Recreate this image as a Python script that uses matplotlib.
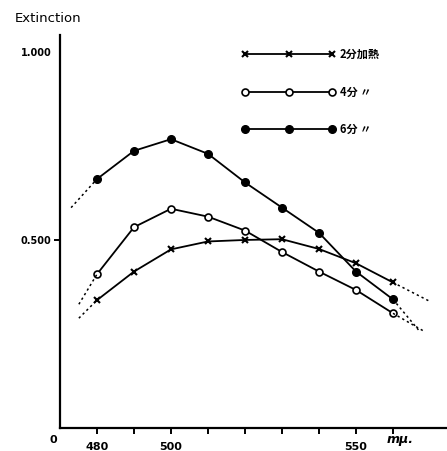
import matplotlib
matplotlib.use('Agg')
import matplotlib.pyplot as plt
from matplotlib.font_manager import FontProperties

# wavelength (m\u03bc) and extinction
wavelength = [480, 490, 500, 510, 520, 530, 540, 550, 560]
ext_2min = [0.340, 0.416, 0.475, 0.496, 0.500, 0.502, 0.476, 0.438, 0.387]
ext_4min = [0.409, 0.534, 0.583, 0.562, 0.525, 0.468, 0.416, 0.367, 0.305]
ext_6min = [0.662, 0.737, 0.768, 0.729, 0.653, 0.586, 0.519, 0.416, 0.342]

# dotted extrapolation ends (left, right)
ends_wl_2min = [475.1, 569.7]
ends_2min = [0.292, 0.338]
ends_wl_4min = [475.1, 568.6]
ends_4min = [0.329, 0.256]
ends_wl_6min = [473.0, 567.3]
ends_6min = [0.586, 0.256]

labels = ['2分加熱', '4分 〃', '6分 〃']
xticks = [480, 490, 500, 510, 520, 530, 540, 550, 560]
xticklabels = ['480', '', '500', '', '', '', '', '550', '']

fig = plt.figure(figsize=(4.47, 4.51), dpi=100)
ax = fig.add_axes([60 / 447, 23 / 451, 387 / 447, 393 / 451])
ax.set_xlim(470, 574.6)
ax.set_ylim(0, 1.045)

lw = 1.3
h1, = ax.plot(wavelength, ext_2min, color='black', lw=lw, marker='x', ms=5, mew=1.5)
h2, = ax.plot(wavelength, ext_4min, color='black', lw=lw, marker='o', ms=5, mfc='white', mew=1.2)
h3, = ax.plot(wavelength, ext_6min, color='black', lw=lw, marker='o', ms=5.5)

for wl, ys, ends_wl, ends in [(wavelength, ext_2min, ends_wl_2min, ends_2min),
                              (wavelength, ext_4min, ends_wl_4min, ends_4min),
                              (wavelength, ext_6min, ends_wl_6min, ends_6min)]:
    ax.plot([ends_wl[0], wl[0]], [ends[0], ys[0]], color='black', lw=1.1, ls=(0, (1.5, 2)))
    ax.plot([wl[-1], ends_wl[1]], [ys[-1], ends[1]], color='black', lw=1.1, ls=(0, (1.5, 2)))

for s in ['top', 'right']:
    ax.spines[s].set_visible(False)
for s in ['left', 'bottom']:
    ax.spines[s].set_linewidth(1.6)

ax.set_xticks(xticks)
ax.set_xticklabels(xticklabels, fontsize=8, fontweight='bold')
ax.set_yticks([0.5, 1.0])
ax.set_yticklabels(['0.500', '1.000'], fontsize=7, fontweight='bold')
ax.tick_params(axis='x', direction='out', length=4, width=1.4, pad=6)
ax.tick_params(axis='y', direction='out', length=4, width=1.4, pad=2)
ax.yaxis.get_major_ticks()[1].tick1line.set_visible(False)

fig.text(53 / 447, 1 - 440 / 451, '0', fontsize=8, fontweight='bold', ha='center', va='center')
fig.text(400 / 447, 1 - 440 / 451, 'mμ.', fontsize=9, fontweight='bold', style='italic',
         ha='center', va='center')
fig.text(15 / 447, 1 - 18 / 451, 'Extinction', fontsize=9.5, ha='left', va='center')

prop = FontProperties(family=['Noto Sans CJK JP', 'DejaVu Sans'], size=8, weight='bold')
leg = ax.legend([h1, h2, h3], labels, prop=prop, numpoints=3, frameon=False,
                handlelength=8.4, labelspacing=2.2, handletextpad=0.4,
                loc='upper left', bbox_to_anchor=(232 / 447, 1 - 38 / 451),
                bbox_transform=fig.transFigure)

fig.savefig('out.png', dpi=100)
